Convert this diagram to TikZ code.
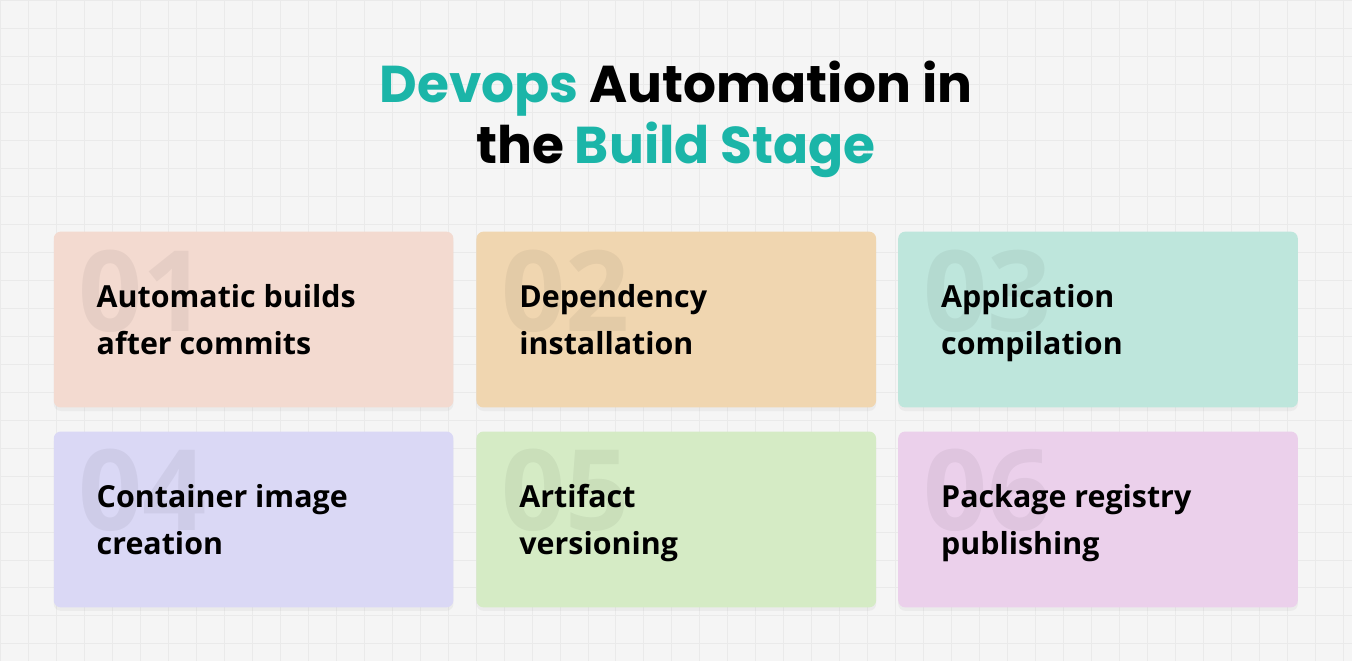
\documentclass[tikz,border=0pt]{standalone}
\usepackage{fontspec}
\setmainfont{Open Sans}
\newfontfamily\titlefont{Poppins}
\usetikzlibrary{shadows}
\definecolor{bgc}{HTML}{F5F5F5}
\definecolor{gridc}{HTML}{EAEAEA}
\definecolor{tealc}{HTML}{1BB5A8}
\definecolor{cardA}{HTML}{F3DAD0}
\definecolor{cardB}{HTML}{F0D6B0}
\definecolor{cardC}{HTML}{BEE6DC}
\definecolor{cardD}{HTML}{DAD8F5}
\definecolor{cardE}{HTML}{D5EBC5}
\definecolor{cardF}{HTML}{EBD0EB}
\tikzset{
  card/.style={rounded corners=4pt, minimum width=8cm, minimum height=3.52cm,
    anchor=north west, inner sep=0pt,
    drop shadow={opacity=0.08, shadow xshift=0pt, shadow yshift=-2pt}},
  num/.style={anchor=north west, inner sep=0pt, text=black, opacity=0.05,
    font=\bfseries\fontsize{64}{64}\selectfont},
  label/.style={anchor=north west, align=left, inner sep=0pt,
    font=\bfseries\fontsize{17.3}{26.5}\selectfont}
}
\begin{document}
\begin{tikzpicture}[x=0.02cm, y=-0.02cm]
  % background
  \fill[bgc] (0,0) rectangle (1352,661);
  \draw[gridc, line width=0.5pt, step=0.56cm] (0,0) grid (1352,661);
  \useasboundingbox (0,0) rectangle (1352,661);

  % title
  \node[font=\titlefont\bfseries\fontsize{29.5}{35}\selectfont, align=center] (title) at (676,119)
    {\textcolor{tealc}{Devops} Automation in\\the \textcolor{tealc}{Build Stage}};

  % cards
  \foreach \x/\y/\c/\n/\t [count=\i] in {
      53/231/cardA/01/{Automatic builds\\after commits},
      476/231/cardB/02/{Dependency\\installation},
      898/231/cardC/03/{Application\\compilation},
      53/431/cardD/04/{Container image\\creation},
      476/431/cardE/05/{Artifact\\versioning},
      898/431/cardF/06/{Package registry\\publishing}} {
    \node[card, fill=\c] (card\i) at (\x,\y) {};
    \node[num] (num\i) at ([xshift=0.5cm, yshift=-0.36cm]card\i.north west) {\n};
    \node[label] (text\i) at ([xshift=0.86cm, yshift=-1.06cm]card\i.north west) {\t};
  }
\end{tikzpicture}
\end{document}
